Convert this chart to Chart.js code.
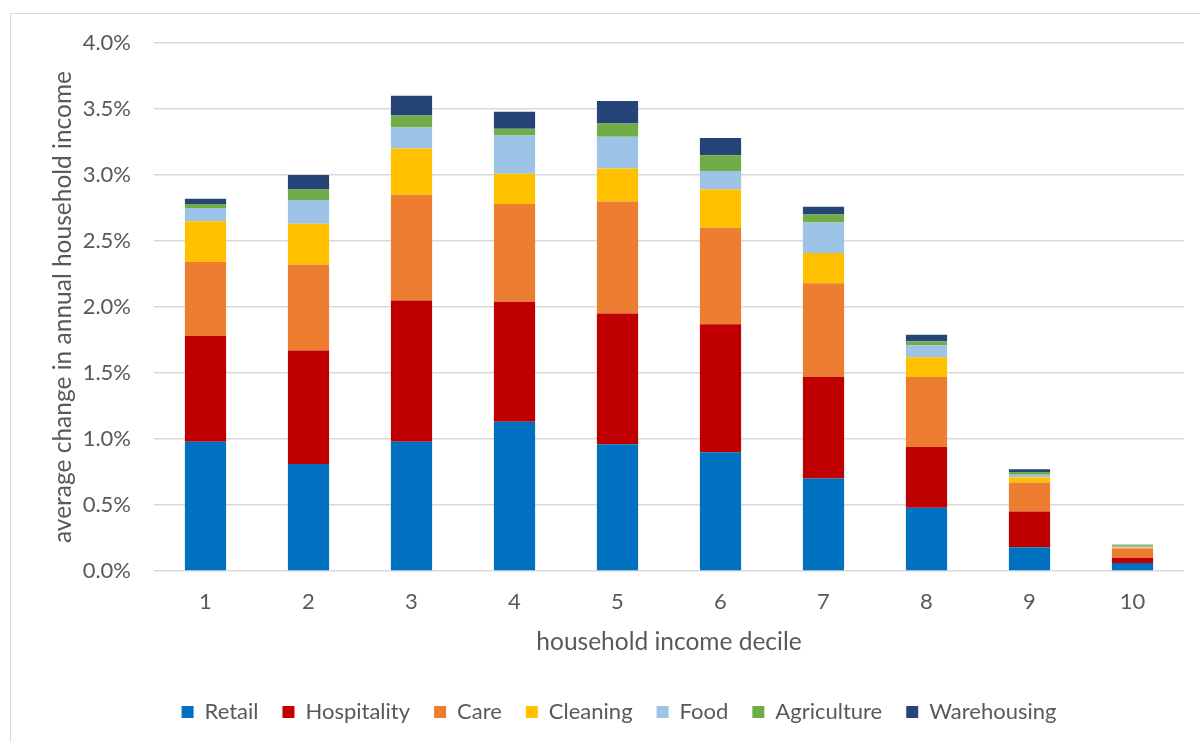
<!DOCTYPE html>
<html>
<head>
<meta charset="utf-8">
<script src="https://cdn.jsdelivr.net/npm/chart.js@4/dist/chart.umd.min.js"></script>
<style>
  html, body { margin: 0; padding: 0; background: #ffffff; }
  #wrap { width: 1200px; height: 742px; position: relative; }
</style>
</head>
<body>
<div id="wrap"><canvas id="decileChart"></canvas></div>
<script>
// deciles on the x axis
const deciles = ["1", "2", "3", "4", "5", "6", "7", "8", "9", "10"];

// average change in annual household income, % per sector
const retail = [0.98, 0.81, 0.98, 1.13, 0.96, 0.90, 0.70, 0.48, 0.18, 0.06];
const hospitality = [0.80, 0.86, 1.07, 0.91, 0.99, 0.97, 0.77, 0.46, 0.27, 0.04];
const care = [0.56, 0.65, 0.80, 0.74, 0.85, 0.73, 0.71, 0.53, 0.22, 0.07];
const cleaning = [0.31, 0.31, 0.35, 0.23, 0.25, 0.29, 0.23, 0.15, 0.04, 0.01];
const food = [0.10, 0.18, 0.16, 0.29, 0.24, 0.14, 0.23, 0.09, 0.02, 0.01];
const agriculture = [0.03, 0.08, 0.09, 0.05, 0.10, 0.12, 0.06, 0.03, 0.02, 0.005];
const warehousing = [0.04, 0.11, 0.15, 0.13, 0.17, 0.13, 0.06, 0.05, 0.02, 0.003];

const yTicks = [0, 0.5, 1.0, 1.5, 2.0, 2.5, 3.0, 3.5, 4.0];

function sectorColors() {
  return {
    retail: "#0070C0",
    hospitality: "#C00000",
    care: "#ED7D31",
    cleaning: "#FFC000",
    food: "#9DC3E6",
    agriculture: "#70AD47",
    warehousing: "#264478",
    text: "#595959",
    grid: "#d9d9d9",
  };
}

const colors = sectorColors();
const font = "Lato";

function series(label, data, color) {
  return {
    label: label,
    data: data,
    backgroundColor: color,
    borderWidth: 0,
    barPercentage: 0.4,
    categoryPercentage: 1.0,
  };
}

// thin frame round the whole chart; legend row nudged right of centre
const chartFrame = {
  id: "chartFrame",
  beforeDraw: (chart) => {
    const ctx = chart.ctx;
    ctx.save();
    ctx.fillStyle = "#ffffff";
    ctx.fillRect(0, 0, chart.width, chart.height);
    ctx.strokeStyle = colors.grid;
    ctx.lineWidth = 1;
    ctx.strokeRect(10.5, 13.5, chart.width + 20, chart.height + 20);
    ctx.restore();
    if (chart.legend) {
      chart.legend.left += 22;
      chart.legend.right += 22;
    }
  },
};

const config = {
  type: "bar",
  data: {
    labels: deciles,
    datasets: [
      series("Retail", retail, colors.retail),
      series("Hospitality", hospitality, colors.hospitality),
      series("Care", care, colors.care),
      series("Cleaning", cleaning, colors.cleaning),
      series("Food", food, colors.food),
      series("Agriculture", agriculture, colors.agriculture),
      series("Warehousing", warehousing, colors.warehousing),
    ],
  },
  options: {
    animation: false,
    responsive: true,
    maintainAspectRatio: false,
    layout: {
      padding: { left: 10, right: 16, top: 43, bottom: 9 },
    },
    plugins: {
      legend: {
        position: "bottom",
        labels: {
          color: colors.text,
          font: { family: font, size: 22 },
          boxWidth: 12,
          boxHeight: 12,
          padding: 24,
        },
      },
      tooltip: { enabled: false },
    },
    scales: {
      x: {
        stacked: true,
        grid: { display: false, drawTicks: false },
        border: { display: false },
        ticks: {
          color: colors.text,
          font: { family: font, size: 22 },
          padding: 18,
          maxRotation: 0,
        },
        title: {
          display: true,
          text: "household income decile",
          color: colors.text,
          font: { family: font, size: 24.5 },
          padding: { top: 0, bottom: 20 },
        },
        afterFit: (scale) => {
          scale.height = 106;
        },
      },
      y: {
        stacked: true,
        min: 0,
        max: 4,
        grid: { color: colors.grid, lineWidth: 1.5, drawTicks: false },
        border: { display: false },
        afterBuildTicks: (scale) => {
          scale.ticks = yTicks.map((v) => ({ value: v }));
        },
        ticks: {
          color: colors.text,
          font: { family: font, size: 22 },
          padding: 23,
          callback: (v) => Number(v).toFixed(1) + "%",
        },
        title: {
          display: true,
          text: "average change in annual household income",
          color: colors.text,
          font: { family: font, size: 24.5 },
          padding: { top: 38, bottom: 0 },
        },
        afterFit: (scale) => {
          scale.width = 144;
        },
      },
    },
  },
  plugins: [chartFrame],
};

new Chart(document.getElementById("decileChart"), config);
</script>
</body>
</html>
